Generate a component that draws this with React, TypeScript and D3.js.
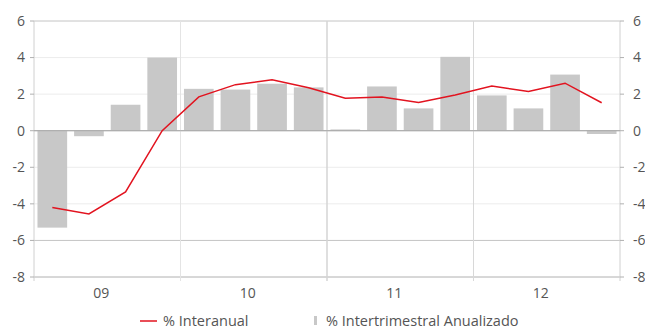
import React from "react";
import * as d3 from "d3";

const quarters = ["09T1","09T2","09T3","09T4","10T1","10T2","10T3","10T4","11T1","11T2","11T3","11T4","12T1","12T2","12T3","12T4"];
const years = ["09", "10", "11", "12"];
const barValues = [-5.3, -0.3, 1.42, 4.0, 2.29, 2.25, 2.57, 2.37, 0.07, 2.42, 1.22, 4.04, 1.93, 1.22, 3.07, -0.18];
const lineValues = [-4.2, -4.55, -3.35, 0.0, 1.85, 2.52, 2.78, 2.35, 1.78, 1.84, 1.55, 1.95, 2.44, 2.15, 2.6, 1.53];
const yTicks = [6, 4, 2, 0, -2, -4, -6, -8];
const darkGrid = [6, 0, -6];

export default function App() {
  const W = 645, H = 329;
  const left = 34, right = 620, top = 21, bottom = 277;
  const x = d3.scaleBand<string>().domain(quarters).range([left, right]).paddingInner(0.19).paddingOuter(0.095);
  const xYear = d3.scaleBand<string>().domain(years).range([left, right]);
  const y = d3.scaleLinear().domain([-8, 6]).range([bottom, top]);
  const line = d3.line<number>().x((_, i) => (x(quarters[i]) as number) + x.bandwidth() / 2).y(d => y(d));
  const font = "'Open Sans', sans-serif";
  const textColor = "#555";
  const vColors = ["#e4e4e4", "#d4d4d4", "#d8d8d8"];
  return (
    <svg width={W} height={H} style={{ position: "absolute", left: 0, top: 0 }} fontFamily={font}>
      {yTicks.map(t => (
        <line key={"g" + t} x1={left} x2={right} y1={y(t)} y2={y(t)}
          stroke={t === -8 ? "#b0b0b0" : darkGrid.includes(t) ? "#c4c4c4" : "#ececec"} strokeWidth={1} />
      ))}
      {years.slice(1).map((yr, i) => (
        <line key={"v" + yr} x1={xYear(yr)} x2={xYear(yr)} y1={top} y2={bottom + 4}
          stroke={vColors[i]} strokeWidth={i === 1 ? 1.5 : 1} />
      ))}
      <line x1={left} x2={left} y1={top} y2={bottom + 4} stroke="#d0d0d0" />
      <line x1={right} x2={right} y1={top} y2={bottom + 4} stroke="#d0d0d0" />
      {quarters.map((q, i) => (
        <rect key={q} x={x(q)} width={x.bandwidth()}
          y={Math.min(y(0), y(barValues[i]))} height={Math.abs(y(barValues[i]) - y(0))} fill="#c8c8c8" />
      ))}
      <line x1={left} x2={right} y1={y(0)} y2={y(0)} stroke="#a8a8a8" strokeWidth={1} />
      <path d={line(lineValues) as string} fill="none" stroke="#e2131f" strokeWidth={1.5} />
      {yTicks.map(t => (
        <g key={"t" + t}>
          <line x1={left - 4} x2={left} y1={y(t)} y2={y(t)} stroke="#b0b0b0" />
          <line x1={right} x2={right + 4} y1={y(t)} y2={y(t)} stroke="#b0b0b0" />
          <text x={left - 9} y={y(t)} dy="0.35em" textAnchor="end" fontSize={14} fill={textColor}>{t}</text>
          <text x={right + 13} y={y(t)} dy="0.35em" textAnchor="start" fontSize={14} fill={textColor}>{t}</text>
        </g>
      ))}
      {years.map(yr => (
        <text key={"x" + yr} x={(xYear(yr) as number) + xYear.bandwidth() / 2 - 6} y={293} dy="0.35em"
          textAnchor="middle" fontSize={14} fill={textColor}>{yr}</text>
      ))}
      <line x1={140} x2={157} y1={321} y2={321} stroke="#e2131f" strokeWidth={1.5} />
      <text x={163} y={321} dy="0.35em" fontSize={14.5} fill={textColor}>% Interanual</text>
      <rect x={314} y={316} width={3} height={9} fill="#c8c8c8" />
      <text x={326} y={321} dy="0.35em" fontSize={14.5} fill={textColor}>% Intertrimestral Anualizado</text>
    </svg>
  );
}
